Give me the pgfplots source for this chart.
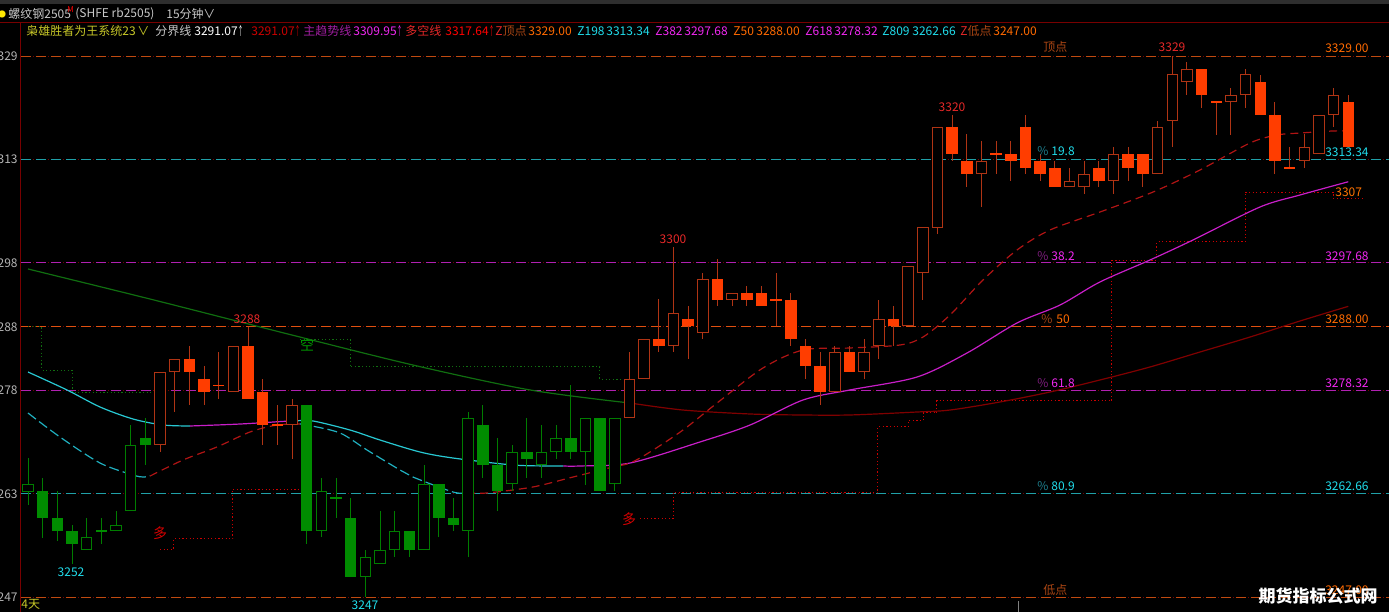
\documentclass[border=0pt]{standalone}
\usepackage{pgfplots}
\pgfplotsset{compat=1.18}
\usepackage{pgfplotstable}
\usepackage{fontspec}
\setmainfont{Noto Sans CJK SC}

\definecolor{gFill}{RGB}{0,140,0}
\definecolor{gLine}{RGB}{0,125,0}
\definecolor{rFill}{RGB}{255,61,0}
\definecolor{rLine}{RGB}{176,52,20}
\definecolor{fibBrown}{RGB}{192,74,16}
\definecolor{fibTeal}{RGB}{32,160,168}
\definecolor{fibMag}{RGB}{176,32,176}
\definecolor{fibOr}{RGB}{224,80,16}
\definecolor{dotRed}{RGB}{120,0,0}
\definecolor{maCyan}{RGB}{40,200,210}
\definecolor{maMag}{RGB}{200,30,200}
\definecolor{dkGreen}{RGB}{16,110,16}
\definecolor{dkRed}{RGB}{128,0,0}
\definecolor{dashRed}{RGB}{176,20,20}
\definecolor{dashCy}{RGB}{32,176,192}
\definecolor{txtGray}{RGB}{200,200,200}
\definecolor{axGray}{RGB}{180,180,180}
\definecolor{txtYel}{RGB}{200,200,40}
\definecolor{txtOr}{RGB}{255,106,0}
\definecolor{txtCy}{RGB}{32,220,235}
\definecolor{txtMag}{RGB}{240,40,240}
\definecolor{txtRed}{RGB}{230,40,40}
\definecolor{txtPur}{RGB}{160,30,160}
\definecolor{dimCy}{RGB}{30,130,145}
\definecolor{dimMag}{RGB}{130,30,130}
\definecolor{dimOr}{RGB}{170,70,20}
\definecolor{sepRed}{RGB}{120,0,0}

\newcommand{\up}{\scalebox{0.5}[1]{↑}}

% candles: i open high low close
\pgfplotstableread{
i o h l c
1 3263.1 3265.1 3256.0 3259.0
2 3259.0 3263.1 3255.5 3257.0
3 3257.1 3258.0 3252.0 3255.1
5 3257.1 3259.0 3255.1 3257.1
8 3271.1 3274.1 3267.0 3270.1
19 3276.1 3276.1 3255.1 3257.1
21 3262.1 3265.1 3259.0 3262.1
22 3259.0 3262.1 3250.1 3250.1
26 3257.1 3257.1 3253.1 3254.1
28 3264.1 3264.1 3256.1 3259.0
29 3259.0 3262.1 3257.0 3258.0
31 3273.1 3276.1 3265.1 3267.1
32 3267.1 3271.1 3260.1 3263.1
34 3269.0 3274.1 3265.1 3268.0
37 3271.1 3279.1 3268.0 3269.0
39 3274.1 3274.1 3263.1 3263.1
}\gFillT
\pgfplotstableread{
i o h l c
0 3262.9 3268.1 3261.0 3264.2
4 3254.1 3259.0 3254.1 3256.1
6 3257.1 3260.1 3257.1 3258.0
7 3260.1 3273.1 3260.1 3270.1
20 3257.1 3265.1 3256.1 3263.1
23 3250.1 3254.1 3247.0 3253.1
24 3252.1 3260.1 3252.1 3254.1
25 3254.1 3260.1 3253.1 3257.1
27 3254.1 3267.1 3254.1 3264.1
30 3257.1 3275.1 3253.1 3274.1
33 3264.1 3270.1 3263.1 3269.0
35 3267.1 3273.1 3265.1 3269.0
36 3269.0 3273.1 3268.0 3271.1
38 3269.0 3274.1 3264.0 3274.1
40 3264.1 3274.1 3263.1 3274.1
}\gHolT
\pgfplotstableread{
i o h l c
11 3283.1 3285.1 3276.1 3281.1
12 3280.1 3282.1 3276.1 3278.1
13 3279.1 3284.1 3277.0 3279.1
15 3285.1 3288.0 3277.1 3277.1
16 3278.1 3280.1 3270.1 3273.1
17 3273.1 3276.1 3270.1 3273.1
43 3286.1 3292.2 3284.1 3285.1
45 3289.1 3291.1 3283.1 3288.1
47 3295.2 3298.2 3291.1 3292.1
49 3293.1 3294.2 3291.1 3292.1
50 3293.1 3294.2 3291.1 3291.1
51 3292.1 3296.2 3288.1 3292.1
52 3292.1 3293.1 3285.1 3286.1
53 3285.1 3286.1 3280.1 3282.1
54 3282.1 3284.1 3276.1 3278.1
56 3284.1 3285.1 3281.1 3281.1
59 3289.1 3291.1 3285.1 3288.1
63 3318.2 3320.0 3313.1 3314.2
64 3313.1 3317.2 3309.1 3311.1
66 3314.2 3316.2 3311.1 3314.2
67 3314.2 3316.2 3310.1 3313.1
68 3318.2 3320.1 3311.1 3312.1
69 3313.1 3314.2 3310.1 3311.1
70 3312.1 3313.1 3309.1 3309.1
73 3312.1 3313.1 3309.1 3310.1
75 3314.2 3315.2 3310.1 3312.1
76 3314.2 3314.2 3309.1 3311.1
80 3327.1 3327.1 3321.1 3323.1
81 3322.1 3322.1 3317.0 3322.1
84 3325.1 3326.2 3320.1 3320.1
85 3320.1 3322.1 3311.1 3313.1
86 3312.1 3315.2 3312.1 3312.1
90 3322.1 3323.1 3315.2 3315.2
}\rFillT
\pgfplotstableread{
i o h l c
9 3270.1 3281.1 3269.0 3281.1
10 3281.1 3283.1 3275.1 3283.1
14 3278.1 3285.1 3278.1 3285.1
18 3273.1 3277.1 3268.0 3276.1
41 3274.1 3284.1 3274.1 3280.1
42 3280.1 3286.1 3280.1 3286.1
44 3285.1 3300.0 3284.1 3290.1
46 3287.1 3296.2 3286.1 3295.2
48 3292.1 3293.1 3291.1 3293.1
55 3278.1 3285.1 3278.1 3284.1
57 3281.1 3286.1 3280.1 3284.1
58 3285.1 3292.1 3283.1 3289.1
60 3288.1 3297.2 3288.1 3297.2
61 3296.1 3303.1 3292.0 3303.1
62 3303.0 3318.2 3302.1 3318.2
65 3311.1 3316.2 3306.1 3313.1
71 3309.1 3312.1 3309.1 3310.1
72 3309.1 3313.1 3308.1 3311.1
74 3310.1 3315.2 3308.1 3314.2
77 3311.1 3319.2 3311.1 3318.2
78 3319.2 3329.0 3315.2 3326.2
79 3325.1 3328.1 3323.1 3327.1
82 3322.1 3324.1 3317.0 3323.1
83 3323.1 3327.1 3321.1 3326.2
87 3313.1 3317.2 3312.1 3315.2
88 3314.2 3320.1 3314.2 3320.1
89 3320.1 3324.1 3318.2 3323.1
}\rHolT

\newcommand{\wicks}[2]{%
\addplot[draw=none, mark=none, forget plot,
  error bars/.cd, y dir=both, y explicit, error mark=none,
  error bar style={draw=#2, solid, line width=0.5pt}]
  table[x=i, y expr={(\thisrow{h}+\thisrow{l})/2}, y error expr={(\thisrow{h}-\thisrow{l})/2}] {#1};}
\newcommand{\bodies}[3]{%
\addplot[draw=none, mark=none, forget plot,
  error bars/.cd, y dir=both, y explicit, error mark=none,
  error bar style={draw=#2, solid, line width=#3}]
  table[x=i, y expr={(\thisrow{o}+\thisrow{c})/2}, y error expr={max(abs(\thisrow{o}-\thisrow{c})/2,0.08)}] {#1};}
\newcommand{\inner}[1]{%
\addplot[draw=none, mark=none, forget plot,
  error bars/.cd, y dir=both, y explicit, error mark=none,
  error bar style={draw=black, solid, line width=4.75pt}]
  table[x=i, y expr={(\thisrow{o}+\thisrow{c})/2}, y error expr={max(abs(\thisrow{o}-\thisrow{c})/2-0.15,0)}] {#1};}
\newcommand{\fibline}[2]{%
\addplot[dotRed, line width=0.5pt, dash pattern=on 0.6pt off 6.9pt, dash phase=1.6pt, forget plot] coordinates {(-0.48,#1) (92.775,#1)};
\addplot[#2, line width=0.5pt, dash pattern=on 5pt off 2.5pt, forget plot] coordinates {(-0.48,#1) (92.775,#1)};}

\begin{document}
\begin{tikzpicture}
\fill[black] (0,0) rectangle (694.5pt,306pt);
\begin{axis}[at={(0,0)}, anchor=south west, scale only axis,
  width=694.5pt, height=306pt, hide axis,
  xmin=-1.9087, xmax=92.775, ymin=3244.758, ymax=3337.485]

% Fibonacci levels
\fibline{3329}{fibBrown}
\fibline{3313.34}{fibTeal}
\fibline{3297.68}{fibMag}
\fibline{3288}{fibOr}
\fibline{3278.32}{fibMag}
\fibline{3262.66}{fibTeal}
\fibline{3247}{fibBrown}

% dotted trailing stop lines
\addplot[dkGreen, line width=0.5pt, dash pattern=on 0.6pt off 1.2pt, forget plot] coordinates {(0,3287.94)(0.95,3287.94)(0.95,3281.42)(3.0,3281.42)(3.0,3278.09)(8.86,3278.09)};
\addplot[red!80!black, line width=0.5pt, dash pattern=on 0.6pt off 1.2pt, forget plot] coordinates {(9.0,3254.3)(9.95,3254.3)(9.95,3255.82)(13.97,3255.82)(13.97,3263.39)(18.88,3263.39)};
\addplot[dkGreen, line width=0.5pt, dash pattern=on 0.6pt off 1.2pt, forget plot] coordinates {(18.54,3286.12)(21.95,3286.12)(21.95,3281.88)(38.99,3281.88)(38.99,3280.06)(40.56,3280.06)};
\addplot[red!80!black, line width=0.5pt, dash pattern=on 0.6pt off 1.2pt, forget plot] coordinates {(41.72,3258.85)(43.97,3258.85)(43.97,3262.79)(57.94,3262.79)(57.94,3272.79)(59.99,3272.79)(59.99,3273.7)(61.01,3273.7)(61.01,3274.91)(61.96,3274.91)(61.96,3276.73)(73.89,3276.73)(73.89,3298.09)(76.96,3298.09)(76.96,3300.82)(82.96,3300.82)(82.96,3308.39)(88.96,3308.39)(88.96,3307.48)(90.93,3307.48)};

% 分界线 (long MA)
\addplot[dkGreen, line width=0.6pt, smooth, forget plot] coordinates {(0,3296.73)(8.32,3292.18)(17.18,3287.18)(26.24,3282.18)(34.22,3278.4)(41.04,3276.42)};
\addplot[dkRed, line width=0.6pt, smooth, forget plot] coordinates {(41.04,3276.42)(44.65,3275.36)(49.22,3274.76)(52.62,3274.61)(56.03,3274.61)(60.6,3275.06)(62.85,3275.36)(66.26,3276.58)(69.67,3278.09)(73.07,3279.91)(76.48,3281.88)(79.89,3284.15)(83.3,3286.42)(86.71,3288.85)(90,3291.07)};

% 主趋势线
\addplot[maCyan, line width=0.6pt, smooth, forget plot] coordinates {(0,3281.12)(2.66,3278.4)(4.91,3275.82)(7.16,3274.0)(9.20,3273.09)(11.04,3272.94)};
\addplot[maMag, line width=0.6pt, smooth, forget plot] coordinates {(11.04,3272.94)(14.45,3273.24)(17.86,3273.7)(18.2,3273.7)};
\addplot[maCyan, line width=0.6pt, smooth, forget plot] coordinates {(18.2,3273.7)(19.43,3273.7)(21.95,3272.33)(23.99,3270.82)(26.72,3269.0)(28.97,3268.09)(33.06,3267.03)(35.79,3266.88)(36.5,3266.88)};
\addplot[maMag, line width=0.6pt, smooth, forget plot] coordinates {(36.5,3266.88)(37.63,3266.88)(41.04,3267.33)(45.81,3270.52)(49.22,3273.09)(52.83,3276.88)(56.03,3278.4)(60.6,3280.36)(64.01,3284.0)(67.42,3288.55)(70.35,3291.27)(73.07,3294.76)(76.48,3298.09)(79.41,3301.12)(83.98,3306.12)(86.71,3307.94)(90,3309.95)};

% 多空线 (dashed)
\addplot[dashCy, line width=0.6pt, dash pattern=on 5pt off 2pt, smooth, forget plot] coordinates {(0,3274.91)(2.18,3271.27)(4.91,3267.33)(7.16,3265.52)(7.84,3265.21)(8.32,3265.36)};
\addplot[dashRed, line width=0.6pt, dash pattern=on 4pt off 2.5pt, smooth, forget plot] coordinates {(8.32,3265.36)(10.57,3267.79)(12.88,3269.76)(15.13,3272.03)(16.97,3273.09)(18.54,3273.24)};
\addplot[dashCy, line width=0.6pt, dash pattern=on 5pt off 2pt, smooth, forget plot] coordinates {(18.54,3273.24)(19.02,3273.09)(21.27,3271.88)(23.11,3269.3)(25.36,3266.27)(26.24,3265.21)(28.97,3262.94)(29.93,3262.79)};
\addplot[dashRed, line width=0.6pt, dash pattern=on 4pt off 2.5pt, smooth, forget plot] coordinates {(29.93,3262.79)(31.29,3262.79)(34.42,3263.7)(37.15,3265.21)(39.88,3266.73)(41.04,3267.33)(42.40,3269.0)(44.65,3272.33)(46.97,3276.42)(50.10,3281.73)(52.83,3284.45)(56.03,3284.76)(59.44,3285.21)(61.01,3286.42)(62.85,3289.76)(65.1,3295.06)(67.42,3299.61)(69.67,3302.64)(73.07,3305.36)(76.69,3308.39)(79.89,3311.73)(83.3,3315.82)(85.14,3317.03)(86.71,3317.33)(88.96,3317.64)(90,3317.64)};

% candles
\wicks{\gFillT}{gLine}
\wicks{\gHolT}{gLine}
\wicks{\rFillT}{rLine}
\wicks{\rHolT}{rLine}
\bodies{\gFillT}{gFill}{5.75pt}
\bodies{\gHolT}{gLine}{5.75pt}
\inner{\gHolT}
\bodies{\rFillT}{rFill}{5.75pt}
\bodies{\rHolT}{rLine}{5.75pt}
\inner{\rHolT}
\end{axis}

\begin{scope}[shift={(0pt,306pt)}, x=0.5pt, y=-0.5pt,
  every node/.style={inner sep=0pt, font=\fontsize{6}{7}\selectfont}]
\fill[black!82] (0,0) rectangle (1389,4);
\draw[sepRed, line width=0.5pt] (0,22.5) -- (1389,22.5);
\draw[sepRed, line width=0.5pt] (20.5,22.5) -- (20.5,612);
\draw[gray, line width=0.5pt] (1018,601) -- (1018,612);
% header row 1
\node[text=yellow!90!orange, font=\fontsize{4}{4}\selectfont] at (2,14) {●};
\node[anchor=west, text=txtGray] at (8,14) {螺纹钢2505};
\node[anchor=west, text=red, font=\fontsize{4}{4}\selectfont] at (67,10) {M};
\node[anchor=west, text=txtGray] at (75,14) {(SHFE rb2505)};
\node[anchor=west, text=txtGray] at (166,14) {15分钟};
\node[anchor=west, text=txtGray] at (203,14) {∨};
% header row 2
\node[anchor=west, text=txtYel] at (26,31) {枭雄胜者为王系统23};
\node[anchor=west, text=txtYel] at (137,31) {∨};
\node[anchor=west, text=txtGray] at (155,31) {分界线};
\node[anchor=west, text=white] at (194,31) {3291.07\up};
\node[anchor=west, text=red!80!black] at (251,31) {3291.07\up};
\node[anchor=west, text=txtPur] at (303,31) {主趋势线};
\node[anchor=west, text=txtMag] at (353,31) {3309.95\up};
\node[anchor=west, text=txtRed] at (405,31) {多空线};
\node[anchor=west, text=red] at (445,31) {3317.64\up};
\node[anchor=west, text=dimOr] at (495,31) {\textcolor{txtRed}{Z}顶点};
\node[anchor=west, text=txtOr] at (528,31) {3329.00};
\node[anchor=west, text=txtCy] at (577,31) {Z198};
\node[anchor=west, text=txtCy] at (606,31) {3313.34};
\node[anchor=west, text=txtMag] at (655,31) {Z382};
\node[anchor=west, text=txtMag] at (684,31) {3297.68};
\node[anchor=west, text=txtOr] at (733,31) {Z50};
\node[anchor=west, text=txtOr] at (756,31) {3288.00};
\node[anchor=west, text=txtMag] at (805,31) {Z618};
\node[anchor=west, text=txtMag] at (834,31) {3278.32};
\node[anchor=west, text=txtCy] at (882,31) {Z809};
\node[anchor=west, text=txtCy] at (912,31) {3262.66};
\node[anchor=west, text=dimOr] at (960,31) {\textcolor{txtRed}{Z}低点};
\node[anchor=west, text=txtOr] at (993,31) {3247.00};
% y labels
\node[anchor=east, text=axGray] at (18,56) {329};
\node[anchor=east, text=axGray] at (18,159) {313};
\node[anchor=east, text=axGray] at (18,263) {298};
\node[anchor=east, text=axGray] at (18,327) {288};
\node[anchor=east, text=axGray] at (18,390) {278};
\node[anchor=east, text=axGray] at (18,494) {263};
\node[anchor=east, text=axGray] at (18,597) {247};
% fib labels
\node[anchor=west, text=dimOr] at (1043,47) {顶点};
\node[anchor=west, text=dimCy] at (1037,151) {\%};
\node[anchor=west, text=txtCy] at (1051,151) {19.8};
\node[anchor=west, text=dimMag] at (1037,256) {\%};
\node[anchor=west, text=txtMag] at (1051,256) {38.2};
\node[anchor=west, text=dimOr] at (1041,319) {\%};
\node[anchor=west, text=txtOr] at (1056,319) {50};
\node[anchor=west, text=dimMag] at (1037,383) {\%};
\node[anchor=west, text=txtMag] at (1051,383) {61.8};
\node[anchor=west, text=dimCy] at (1037,486) {\%};
\node[anchor=west, text=txtCy] at (1051,486) {80.9};
\node[anchor=west, text=dimOr] at (1043,590) {低点};
% right labels
\node[anchor=east, text=txtOr] at (1369,48) {3329.00};
\node[anchor=east, text=txtCy] at (1369,152) {3313.34};
\node[anchor=east, text=txtMag] at (1369,256) {3297.68};
\node[anchor=east, text=txtOr] at (1369,319) {3288.00};
\node[anchor=east, text=txtMag] at (1369,383) {3278.32};
\node[anchor=east, text=txtCy] at (1369,486) {3262.66};
\node[anchor=east, text=txtOr] at (1369,590) {3247.00};
\node[anchor=west, text=orange!90!red] at (1335,192) {3307};
% candle labels
\node[text=txtRed] at (1172,47) {3329};
\node[text=txtRed] at (952,107) {3320};
\node[text=txtRed] at (673,239) {3300};
\node[text=txtRed] at (247,319) {3288};
\node[text=txtCy] at (71,572) {3252};
\node[text=txtCy] at (365,605) {3247};
\node[text=red!85!black, font=\fontsize{7}{7}\selectfont] at (160,533) {多};
\node[text=red!85!black, font=\fontsize{7}{7}\selectfont] at (629,519) {多};
\node[text=green!60!black, font=\fontsize{7}{7}\selectfont] at (307,345) {空};
\node[anchor=west, text=txtYel] at (21,604) {4天};
% watermark
\node[text=white, font=\fontsize{8.5}{9}\selectfont\bfseries] at (1318,596) {期货指标公式网};
\end{scope}
\pgfresetboundingbox
\path[use as bounding box] (0,0) rectangle (694.5pt,306pt);
\end{tikzpicture}
\end{document}
